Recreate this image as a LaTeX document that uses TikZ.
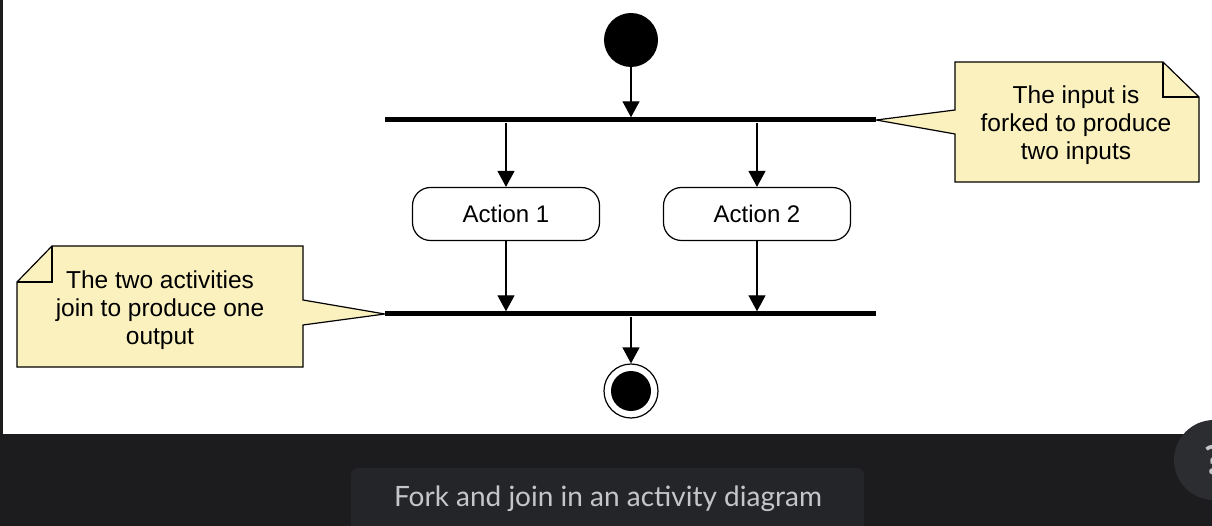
\documentclass[tikz,border=0pt]{standalone}
\usepackage{fontspec}
\usepackage{tikz}
\usepackage{xcolor}
\usetikzlibrary{arrows.meta}
\setmainfont{Liberation Sans}
\newfontfamily\captionfont{Lato}

\definecolor{notefill}{HTML}{FBF1BF}
\definecolor{panel}{HTML}{1C1C1E}
\definecolor{capbox}{HTML}{242529}
\definecolor{captext}{HTML}{C6C6C9}
\definecolor{helpfill}{HTML}{2C2D31}

\begin{document}
\begin{tikzpicture}[x=1pt, y=-1pt,
        flow/.style={line width=1.3pt, -{Triangle[length=16pt, width=17pt]}},
        bar/.style={rectangle, fill=black, inner sep=0pt, minimum width=491pt, minimum height=5pt},
        action/.style={rectangle, rounded corners=18pt, draw=black, line width=1.2pt, fill=white, minimum width=187pt, minimum height=53pt, font=\fontsize{24}{28}\selectfont},
        note/.style={draw=black, line width=1.2pt, fill=notefill},
        notetext/.style={align=center, font=\fontsize{24.5}{28}\selectfont}]
            \useasboundingbox (0, 0) rectangle (1212, 526);
            \clip (0, 0) rectangle (1212, 526);
            \fill[white] (0, 0) rectangle (1212, 434);
            \fill[panel] (0, 434) rectangle (1212, 526);
            \fill[panel] (0, 0) rectangle (3, 434);

            \node[circle, fill=black, inner sep=0pt, minimum size=54pt] (start) at (631, 40) {};
            \node[bar] (fork) at (630.5, 120) {};
            \node[action] (act1) at (506, 214) {Action 1};
            \node[action] (act2) at (757, 214) {Action 2};
            \node[bar] (join) at (630.5, 314) {};
            \node[circle, draw=black, line width=1.2pt, fill=white, inner sep=0pt, minimum size=54pt] (end) at (631, 391) {};
            \node[circle, fill=black, inner sep=0pt, minimum size=40pt] (endin) at (end) {};

            \draw[flow] (start) -- (fork.north -| start);
            \draw[flow] (fork.south -| act1) -- (act1);
            \draw[flow] (fork.south -| act2) -- (act2);
            \draw[flow] (act1) -- (join.north -| act1);
            \draw[flow] (act2) -- (join.north -| act2);
            \draw[flow] (join.south -| end) -- (end);

            % fork note
            \draw[note] (955, 62) -- (1163, 62) -- (1199, 97) -- (1199, 182) -- (955, 182) -- (955, 134) -- (fork.east) -- (955, 110) -- cycle;
            \draw[line width=1.2pt] (1163, 62) -- (1163, 97) -- (1199, 97);
            \node[notetext] (forknote) at (1076, 125) {The input is\\forked to produce\\two inputs};

            % join note
            \draw[note] (17, 282) -- (52, 246) -- (303, 246) -- (303, 300) -- (join.west) -- (303, 325) -- (303, 367) -- (17, 367) -- cycle;
            \draw[line width=1.2pt] (52, 246) -- (52, 282) -- (17, 282);
            \node[notetext] (joinnote) at (160, 310) {The two activities\\join to produce one\\output};

            % caption strip
            \fill[capbox, rounded corners=7pt] (351, 468) rectangle (864, 540);
            \node[anchor=base, text=captext, font=\captionfont\fontsize{28}{32}\selectfont] (caption) at (608, 506) {Fork and join in an activity diagram};
            \node[circle, fill=helpfill, inner sep=0pt, minimum size=80pt] (help) at (1214, 460) {};
            \node[text=captext, font=\captionfont\bfseries\fontsize{40}{44}\selectfont] (helpmark) at (help) {?};
        \end{tikzpicture}
\end{document}
